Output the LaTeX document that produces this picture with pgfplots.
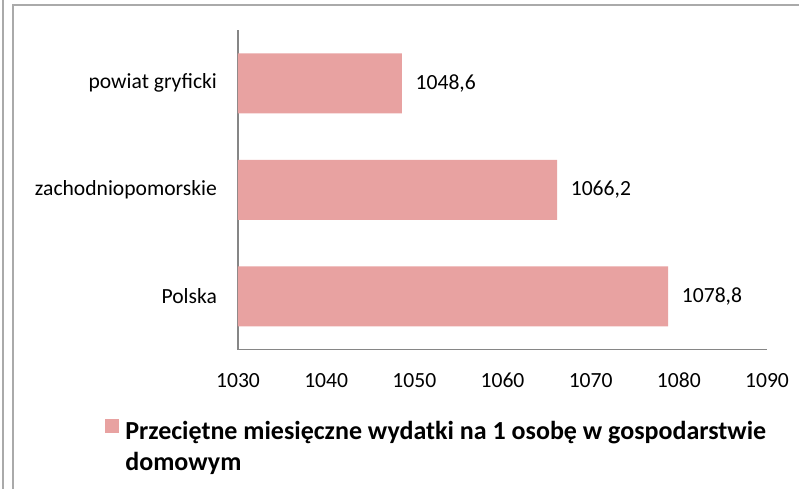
\documentclass[border=0pt]{standalone}
\usepackage{pgfplots}
\pgfplotsset{compat=1.18}
\usepackage{fontspec}
\setmainfont{Carlito}
\definecolor{barcol}{RGB}{232,162,161}
\definecolor{axcol}{RGB}{134,134,134}
\definecolor{framecol}{RGB}{170,170,170}
\begin{document}
\begin{tikzpicture}
\useasboundingbox (0,0) rectangle (399.5pt,-244.5pt);
\draw[framecol, line width=1pt] (1.5pt,0) -- (1.5pt,-244.5pt);
\draw[framecol, line width=1pt] (6.6pt,-244.5pt) -- (6.6pt,-2.5pt) -- (399.5pt,-2.5pt);
\begin{axis}[
  at={(119pt,-174.75pt)}, anchor=south west,
  scale only axis, width=264.5pt, height=159.75pt,
  xbar, bar width=30pt,
  xmin=1030, xmax=1090, ymin=-0.5, ymax=2.5,
  xtick={1030,1040,...,1090},
  ytick={0,1,2},
  yticklabels={Polska, zachodniopomorskie, powiat gryficki},
  axis x line*=bottom, axis y line*=left,
  axis line style={draw=axcol, line width=0.7pt, -},
  major tick length=0pt,
  tick label style={font=\fontsize{10.8}{13}\selectfont, text=black},
  /pgf/number format/assume math mode=true,
  /pgf/number format/1000 sep={},
  xticklabel style={anchor=base, yshift=-19pt},
  yticklabel style={xshift=-7pt},
  point meta=x,
  nodes near coords={\pgfmathprintnumber[fixed,fixed zerofill,precision=1,use comma,1000 sep={},assume math mode=true]{\pgfplotspointmeta}},
  nodes near coords align={horizontal},
  every node near coord/.append style={anchor=west, xshift=3.3pt, font=\fontsize{10.8}{13}\selectfont, text=black},
  legend style={at={(axis description cs:-0.2515,-0.215)}, anchor=north west, draw=none, fill=none, inner sep=0pt, nodes={inner sep=0pt}},
  legend cell align=left,
  legend image code/.code={\fill[barcol] (0pt,-0.5pt) rectangle (7pt,6.5pt);},
]
\addplot[draw=none, fill=barcol] coordinates {(1078.8,0) (1066.2,1) (1048.6,2)};
\addlegendentry{\hspace{3pt}\parbox[t]{340pt}{\fontsize{13}{15.5}\selectfont\bfseries Przeciętne miesięczne wydatki na 1 osobę w gospodarstwie\\domowym}}
\end{axis}
\end{tikzpicture}
\end{document}
